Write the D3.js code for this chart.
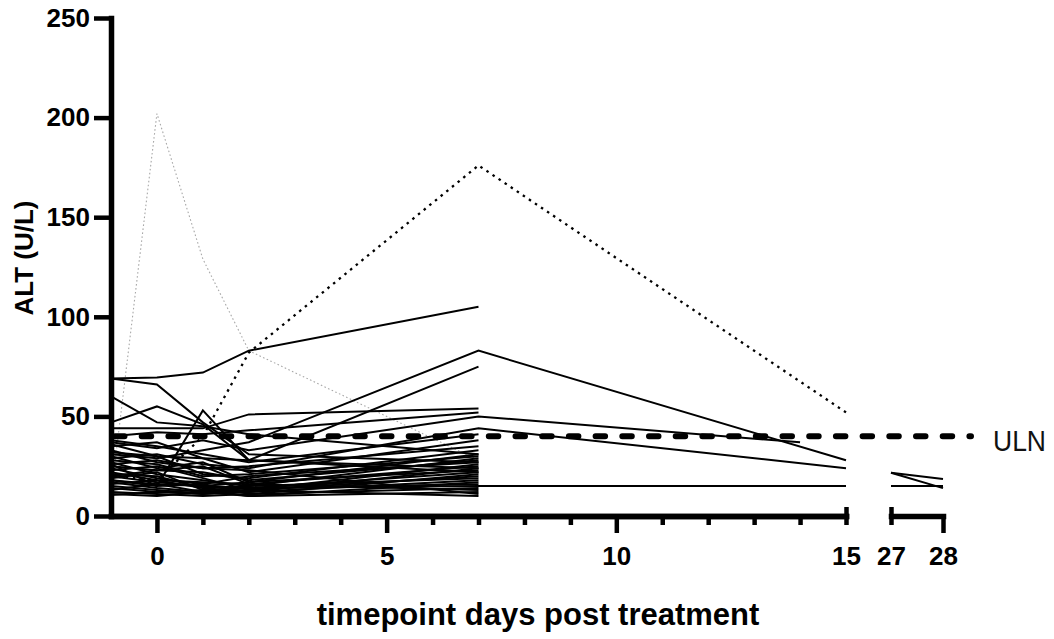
<!DOCTYPE html>
<meta charset="utf-8">
<style>

body {
  margin: 0;
  background: #ffffff;
}

svg text {
  font-family: "Liberation Sans", Arial, sans-serif;
}

.axis .domain {
  stroke: #000;
  stroke-width: 5.5px;
  stroke-linecap: square;
}

.axis .tick line {
  stroke: #000;
  stroke-width: 4.5px;
}

.axis .tick text {
  font-size: 26px;
  font-weight: bold;
  fill: #000;
}

.subject {
  fill: none;
  stroke: #000;
  stroke-width: 2px;
  stroke-linejoin: miter;
}

.subject.outlier {
  stroke-width: 2.3px;
  stroke-dasharray: 2.5 4.8;
}

.subject.peak {
  stroke: #a8a8a8;
  stroke-width: 1.1px;
  stroke-dasharray: 1.6 2.4;
}

.uln {
  stroke: #000;
  stroke-width: 6px;
  stroke-linecap: round;
  stroke-dasharray: 9.5 17.2;
}

</style>
<body>
<script src="https://d3js.org/d3.v7.min.js"></script>
<script>

// days sampled before the axis break, and after it
const days = [-1, 0, 1, 2, 7, 14, 15];
const lateDays = [27, 28];

// ALT (U/L) per subject, one row per subject, null = not sampled
const altSolid = [
  [69, 69.5, 72, 83, 105, null, null],
  [69, 66, 47, 31, 27, null, null],
  [60, 47, 45, 41, 31, null, null],
  [47, 55, 46, 28, 24, null, null],
  [26, 15, 53, 28, 22, null, null],
  [44, 44, 44, 51, 54, null, null],
  [40, 42, 41, 43, 52, null, null],
  [31, 29, 33, 37, 83, null, 28],
  [36, 30, 29, 28, 75, null, null],
  [37, 34, 38, 33, 50, 37, null],
  [29, 31, 26, 24, 44, null, 24],
  [18, 16, 15, 14, 15, null, 15],
  [38, 35, 31, 27, 41, null, null],
  [35, 37, 29, 22, 38, null, null],
  [33, 27, 24, 25, 35, null, null],
  [32, 30, 21, 19, 33, null, null],
  [30, 24, 27, 17, 31, null, null],
  [28, 26, 20, 21, 30, null, null],
  [27, 21, 18, 15, 29, null, null],
  [25, 23, 22, 18, 28, null, null],
  [24, 19, 16, 20, 27, null, null],
  [23, 25, 19, 13, 26, null, null],
  [22, 18, 17, 16, 25, null, null],
  [21, 20, 14, 12, 24, null, null],
  [20, 17, 15, 17, 23, null, null],
  [19, 22, 13, 14, 22, null, null],
  [18, 15, 16, 11, 21, null, null],
  [17, 14, 12, 13, 20, null, null],
  [16, 18, 14, 15, 19, null, null],
  [15, 13, 11, 12, 18, null, null],
  [14, 12, 13, 10, 17, null, null],
  [13, 16, 12, 14, 16, null, null],
  [12, 11, 10, 11, 14, null, null],
  [11, 10, 12, 10, 12, null, null],
  [10.5, 12, 11, 13, 10, null, null],
  [20, 23, 25, 16, 13, null, null],
  [26, 28, 24, 23, 11, null, null]
];
const altOutlier = [20, 18, 40, 82, 176, null, 52];
const altPeak = [10, 202, 129, 83, 28, null, null];
const altLate = [
  [21.7, 18.6],
  [21.7, 14],
  [15, 15]
];

const uln = 40;
const yTicks = [0, 50, 100, 150, 200, 250];
const xMajor = [0, 5, 10, 15];
const xMinor = [1, 2, 3, 4, 6, 7, 8, 9, 11, 12, 13, 14];

var svg = d3.select("body").append("svg")
  .attr("width", 1054)
  .attr("height", 639);

var y = d3.scaleLinear().domain([0, 250]).range([516, 18]);
var x1 = d3.scaleLinear().domain([-1, 15]).range([111, 846]);
var x2 = d3.scaleLinear().domain([27, 28]).range([891, 943]);

function pairs(row, xs) {
  return row.map(function(v, i) { return [xs[i], v]; })
    .filter(function(p) { return p[1] !== null; });
}

var line1 = d3.line()
  .x(function(d) { return x1(d[0]); })
  .y(function(d) { return y(d[1]); });

var line2 = d3.line()
  .x(function(d) { return x2(d[0]); })
  .y(function(d) { return y(d[1]); });

var lines = svg.append("g");

lines.selectAll("path.peak")
  .data([altPeak])
  .enter().append("path")
    .attr("class", "subject peak")
    .attr("d", function(d) { return line1(pairs(d, days)); });

lines.selectAll("path.solid")
  .data(altSolid)
  .enter().append("path")
    .attr("class", "subject solid")
    .attr("d", function(d) { return line1(pairs(d, days)); });

lines.selectAll("path.outlier")
  .data([altOutlier])
  .enter().append("path")
    .attr("class", "subject outlier")
    .attr("d", function(d) { return line1(pairs(d, days)); });

lines.selectAll("path.late")
  .data(altLate)
  .enter().append("path")
    .attr("class", "subject late")
    .attr("d", function(d) { return line2(pairs(d, lateDays)); });

// upper limit of normal
svg.append("line")
  .attr("class", "uln")
  .attr("x1", x1(-1) + 4)
  .attr("x2", 971)
  .attr("y1", y(uln))
  .attr("y2", y(uln));

svg.append("text")
  .attr("x", 993)
  .attr("y", y(uln) + 15)
  .attr("font-size", "30px")
  .attr("textLength", 53)
  .attr("lengthAdjust", "spacingAndGlyphs")
  .attr("fill", "#111")
  .text("ULN");

// axes
svg.append("g")
  .attr("class", "axis")
  .attr("transform", "translate(" + x1(-1) + ",0)")
  .call(d3.axisLeft(y).tickValues(yTicks).tickSize(17).tickPadding(4).tickSizeOuter(0));

svg.append("g")
  .attr("class", "axis")
  .attr("transform", "translate(0," + y(0) + ")")
  .call(d3.axisBottom(x1).tickValues(xMinor).tickSize(9).tickFormat("").tickSizeOuter(0));

var major = svg.append("g")
  .attr("class", "axis")
  .attr("transform", "translate(0," + y(0) + ")")
  .call(d3.axisBottom(x1).tickValues(xMajor).tickSize(17).tickPadding(14).tickSizeOuter(0));

var late = svg.append("g")
  .attr("class", "axis")
  .attr("transform", "translate(0," + y(0) + ")")
  .call(d3.axisBottom(x2).tickValues(lateDays).tickFormat(d3.format("d"))
    .tickSize(17).tickPadding(14).tickSizeOuter(0));

// break ends straddle the axis line
major.selectAll(".tick").filter(function(d) { return d === 15; })
  .select("line").attr("y1", -9).attr("y2", 9);
late.selectAll(".tick").filter(function(d) { return d === 27; })
  .select("line").attr("y1", -9).attr("y2", 9);

svg.append("text")
  .attr("x", 538)
  .attr("y", 625)
  .attr("text-anchor", "middle")
  .attr("font-size", "31px")
  .attr("font-weight", "bold")
  .text("timepoint days post treatment");

svg.append("text")
  .attr("transform", "translate(33,258) rotate(-90)")
  .attr("text-anchor", "middle")
  .attr("font-size", "26px")
  .attr("font-weight", "bold")
  .text("ALT (U/L)");

</script>
</body>
